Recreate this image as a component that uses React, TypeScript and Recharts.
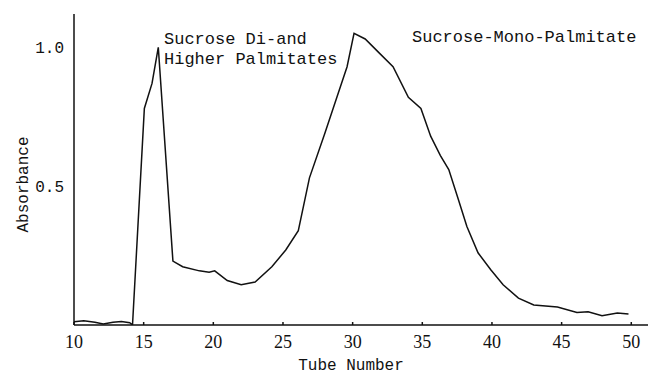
import React from 'react';
import { LineChart, Line, XAxis, YAxis, ReferenceDot } from 'recharts';

// tube numbers where the trace was read (fractional where the pen turns)
const TUBES = [
  10, 10.7, 11.5, 12.1, 12.8, 13.4, 14.0, 14.2, 15.05, 15.6, 16.05, 17.1, 17.8, 19.0,
  19.7, 20.1, 21.0, 22.0, 23.0, 24.2, 25.2, 26.1, 26.9, 28.0, 29.0, 29.6, 30.1, 30.9,
  31.9, 32.9, 34.0, 34.9, 35.6, 36.3, 36.9, 37.6, 38.2, 39.0, 39.9, 40.8, 41.9, 43.0,
  44.7, 46.1, 46.9, 47.9, 49.0, 49.8,
];
const ABSORBANCE = [
  0.012, 0.015, 0.01, 0.004, 0.01, 0.013, 0.008, 0.0, 0.78, 0.87, 1.0, 0.23, 0.21, 0.195,
  0.19, 0.195, 0.16, 0.145, 0.155, 0.21, 0.27, 0.34, 0.53, 0.69, 0.84, 0.93, 1.05, 1.03,
  0.98, 0.93, 0.82, 0.78, 0.68, 0.61, 0.56, 0.45, 0.355, 0.26, 0.2, 0.145, 0.097, 0.072,
  0.065, 0.045, 0.048, 0.033, 0.043, 0.04,
];
const X_TICKS = [10, 15, 20, 25, 30, 35, 40, 45, 50];
const Y_TICKS = [0.5, 1.0];

const data = TUBES.map((tube, i) => ({ tube, abs: ABSORBANCE[i] }));

const MONO = '"Liberation Mono", "DejaVu Sans Mono", monospace';
const SERIF = '"Liberation Serif", "DejaVu Serif", serif';

const TwoLineLabel = (props: any) => {
  const { viewBox } = props;
  const x = viewBox.x + (viewBox.width || 0) / 2;
  const y = viewBox.y + (viewBox.height || 0) / 2;
  return (
    <text x={x} y={y} fontFamily={MONO} fontSize={17} fill="#111">
      <tspan x={x} dy={0}>Sucrose Di-and</tspan>
      <tspan x={x} dy={20}>Higher Palmitates</tspan>
    </text>
  );
};

const OneLineLabel = (props: any) => {
  const { viewBox } = props;
  const x = viewBox.x + (viewBox.width || 0) / 2;
  const y = viewBox.y + (viewBox.height || 0) / 2;
  return (
    <text x={x} y={y} fontFamily={MONO} fontSize={17} fill="#111">
      Sucrose-Mono-Palmitate
    </text>
  );
};

const App: React.FC = () => {
  return (
    <div style={{ position: 'absolute', left: 0, top: 0, background: '#fff' }}>
      <LineChart width={648} height={374} data={data} margin={{ top: 14, right: 0, bottom: 0, left: 0 }}>
        <XAxis
          dataKey="tube"
          type="number"
          domain={[10, 51.2]}
          ticks={X_TICKS}
          allowDataOverflow
          height={49}
          stroke="#111"
          strokeWidth={1.5}
          tickSize={-3}
          tickMargin={13}
          tick={{ fill: '#111', fontFamily: SERIF, fontSize: 18 }}
          label={{ value: 'Tube Number', position: 'insideBottom', offset: 4, dx: -10, fill: '#111', fontFamily: MONO, fontSize: 16 }}
        />
        <YAxis
          type="number"
          domain={[0, 1.12]}
          ticks={Y_TICKS}
          allowDataOverflow
          width={74}
          stroke="#111"
          strokeWidth={1.5}
          tickLine={false}
          tickSize={0}
          tickMargin={10}
          tickFormatter={(v: number) => v.toFixed(1)}
          tick={{ fill: '#111', fontFamily: MONO, fontSize: 16 }}
          label={{ value: 'Absorbance', angle: -90, position: 'center', dx: -15, dy: 15, fill: '#111', fontFamily: MONO, fontSize: 16 }}
        />
        <Line
          type="linear"
          dataKey="abs"
          stroke="#111"
          strokeWidth={1.5}
          dot={false}
          isAnimationActive={false}
        />
        <ReferenceDot x={16.46} y={1.012} r={0} ifOverflow="visible" label={<TwoLineLabel />} />
        <ReferenceDot x={34.26} y={1.019} r={0} ifOverflow="visible" label={<OneLineLabel />} />
      </LineChart>
    </div>
  );
};

export default App;
